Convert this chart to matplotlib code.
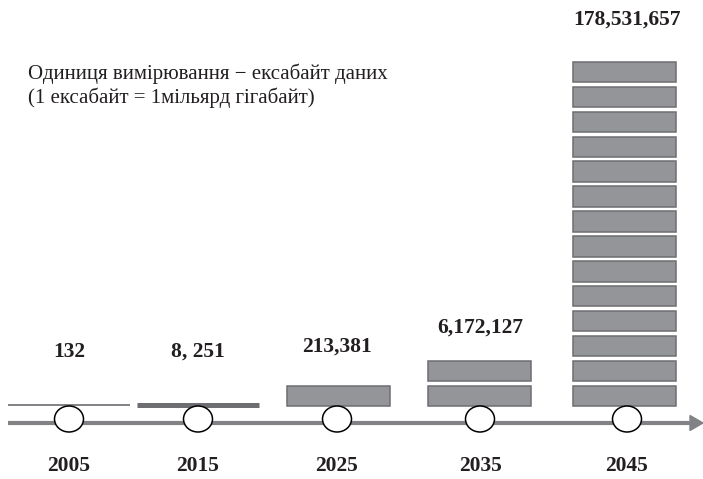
import matplotlib
matplotlib.use("Agg")
from matplotlib import pyplot as plt
from matplotlib.patches import Ellipse, Polygon

# data
years = ["2005", "2015", "2025", "2035", "2045"]
value_labels = ["132", "8, 251", "213,381", "6,172,127", "178,531,657"]
n_blocks = [0, 0, 1, 2, 14]   # number of stacked blocks per period
note_lines = ["Одиниця вимірювання − ексабайт даних",
              "(1 ексабайт = 1мільярд гігабайт)"]

# layout (pixel coordinates)
x_centers = [69, 198, 338, 479, 624]
circle_x = [69, 198, 337, 480, 627]
label_y = [352, 352, 347, 328, 20]
axis_y = 423
base_y = 406
block_h = 20.5
block_pitch = 24.9
block_w = 103
line_w = 122

plt.rcParams['font.family'] = ['Liberation Serif', 'DejaVu Serif']

fig = plt.figure(figsize=(7.03, 4.79), dpi=100)
ax = fig.add_axes([0, 0, 1, 1])
ax.set_xlim(0, 703)
ax.set_ylim(479, 0)
ax.axis('off')

axis_c = '#808285'
bar_c = '#939598'
edge_c = '#6d6e71'

# timeline with arrow
ax.plot([8, 693], [axis_y, axis_y], color=axis_c, lw=3.0, solid_capstyle='butt', zorder=1)
ax.add_patch(Polygon([[690, axis_y - 7.5], [703, axis_y], [690, axis_y + 7.5]],
                     closed=True, color=axis_c, zorder=1))

# 2005 and 2015 are just thin lines
ax.plot([x_centers[0] - line_w / 2, x_centers[0] + line_w / 2], [404.7, 404.7],
        color=axis_c, lw=1.4, solid_capstyle='butt', zorder=2)
ax.plot([x_centers[1] - line_w / 2, x_centers[1] + line_w / 2], [405, 405],
        color=edge_c, lw=3.6, solid_capstyle='butt', zorder=2)

for i, n in enumerate(n_blocks):
    for k in range(n):
        top = base_y - block_h - k * block_pitch
        ax.bar(x_centers[i], block_h, bottom=top, width=block_w,
               color=bar_c, edgecolor=edge_c, linewidth=1.1, zorder=2)

for i in range(len(years)):
    ax.add_patch(Ellipse((circle_x[i], 419), 29, 26, facecolor='white',
                         edgecolor='black', lw=1.1, zorder=3))
    ax.text(x_centers[i] if i < 2 else circle_x[i], 466, years[i], ha='center', va='center',
            fontsize=15.5, fontweight='bold', color='#231f20')
    ax.text(circle_x[i], label_y[i], value_labels[i], ha='center', va='center',
            fontsize=15.5, fontweight='bold', color='#231f20')

for j, line in enumerate(note_lines):
    ax.text(28, 74 + j * 24, line, ha='left', va='center', fontsize=15,
            color='#231f20')

fig.savefig('out.png', dpi=100)
